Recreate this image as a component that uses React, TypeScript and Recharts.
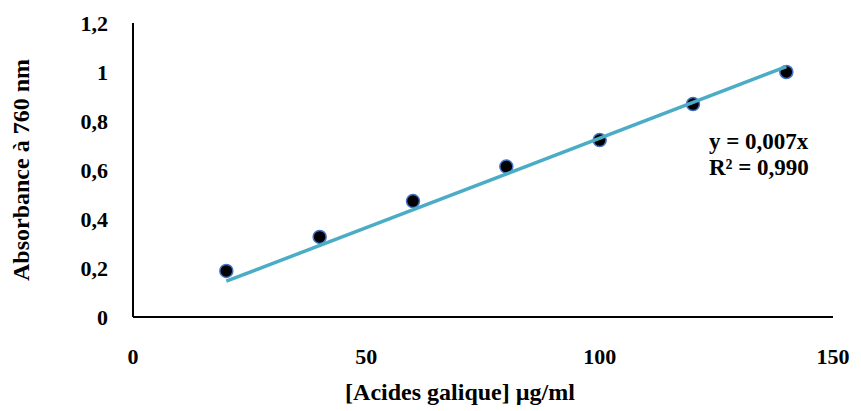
import { ScatterChart, Scatter, XAxis, YAxis, Label } from 'recharts';

const concentrations = [20, 40, 60, 80, 100, 120, 140];
const absorbances = [0.188, 0.327, 0.473, 0.614, 0.722, 0.869, 1.0];
const trendX = [20, 140];
const trendY = [0.146, 1.022];
const xTicks = [0, 50, 100, 150];
const yTicks = [0, 0.2, 0.4, 0.6, 0.8, 1, 1.2];

const points = concentrations.map((x, i) => ({ x, y: absorbances[i] }));
const trend = trendX.map((x, i) => ({ x, y: trendY[i] }));

const font = '"Liberation Serif", "Times New Roman", serif';
const fmt = (v: number) => String(v).replace('.', ',');
const tickStyle = { fill: '#000', fontSize: 22, fontWeight: 'bold', fontFamily: font };
const titleStyle = { fill: '#000', fontSize: 24, fontWeight: 'bold', fontFamily: font };

export default function App() {
  return (
    <div style={{ position: 'absolute', left: 0, top: 0, width: 861, height: 411, background: '#fff', fontFamily: font }}>
      <ScatterChart width={861} height={411} margin={{ top: 23, right: 28, left: 0, bottom: 0 }}>
        <XAxis
          type="number"
          dataKey="x"
          domain={[0, 150]}
          ticks={xTicks}
          tickLine={false}
          tickSize={0}
          tickMargin={31}
          height={94}
          axisLine={{ stroke: '#000', strokeWidth: 2 }}
          tick={tickStyle}
        >
          <Label value="[Acides galique] µg/ml" position="insideBottom" offset={11} dx={-23} style={titleStyle} />
        </XAxis>
        <YAxis
          type="number"
          dataKey="y"
          domain={[0, 1.2]}
          ticks={yTicks}
          tickFormatter={fmt}
          tickLine={false}
          tickSize={0}
          tickMargin={25}
          width={133}
          axisLine={{ stroke: '#000', strokeWidth: 2 }}
          tick={tickStyle}
        >
          <Label
            value="Absorbance à 760 nm"
            angle={-90}
            position="insideLeft"
            offset={20}
            style={{ ...titleStyle, textAnchor: 'middle' }}
          />
        </YAxis>
        <Scatter
          data={points}
          isAnimationActive={false}
          fill="#000"
          shape={(p: any) => <circle cx={p.cx} cy={p.cy} r={6.5} fill="#000" stroke="#4472C4" strokeWidth={1.5} />}
        />
        <Scatter
          data={trend}
          isAnimationActive={false}
          line={{ stroke: '#4BACC6', strokeWidth: 3.5 }}
          shape={() => <g />}
        />
      </ScatterChart>
      <div style={{ position: 'absolute', left: 709, top: 129, fontSize: 23, fontWeight: 'bold', lineHeight: '26px', color: '#000' }}>
        <div>y = 0,007x</div>
        <div>R² = 0,990</div>
      </div>
    </div>
  );
}
